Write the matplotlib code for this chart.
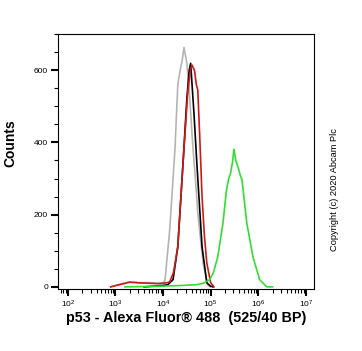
import numpy as np
import matplotlib
matplotlib.use('Agg')
import matplotlib.pyplot as plt
from matplotlib.ticker import LogLocator, MultipleLocator

plt.rcParams['font.family'] = ['Liberation Sans', 'DejaVu Sans']
plt.rcParams['mathtext.fontset'] = 'custom'
plt.rcParams['mathtext.rm'] = 'Liberation Sans'
plt.rcParams['mathtext.it'] = 'Liberation Sans'

# log10 of fluorescence intensity, counts per channel
gray_log = [2.9, 3.1, 3.3, 3.5, 3.7, 3.9, 4.0, 4.04, 4.14, 4.25, 4.31, 4.36, 4.40, 4.44, 4.50, 4.56, 4.62, 4.68, 4.73, 4.84, 4.94, 5.0]
gray_cnt = [0, 8, 14, 12, 12, 10, 12, 17, 158, 380, 560, 600, 625, 663, 620, 525, 400, 300, 205, 66, 5, 0]

black_log = [3.6, 3.8, 4.0, 4.1, 4.21, 4.31, 4.42, 4.50, 4.55, 4.58, 4.65, 4.71, 4.82, 4.92, 5.0, 5.05]
black_cnt = [0, 2, 4, 6, 20, 111, 343, 520, 600, 619, 480, 343, 111, 11, 2, 0]

red_log = [2.9, 3.05, 3.3, 3.5, 3.72, 3.9, 4.0, 4.1, 4.14, 4.22, 4.31, 4.42, 4.52, 4.58, 4.61, 4.66, 4.70, 4.73, 4.77, 4.82, 4.87, 4.92, 5.0, 5.07]
red_cnt = [0, 5, 13, 11, 10, 9, 10, 12, 14, 40, 111, 343, 540, 605, 614, 600, 560, 545, 420, 249, 140, 66, 12, 0]

green_log = [3.2, 3.6, 4.0, 4.4, 4.7, 4.85, 4.98, 5.06, 5.15, 5.26, 5.33, 5.38, 5.42, 5.46, 5.49, 5.53, 5.58, 5.62, 5.66, 5.76, 5.89, 6.03, 6.18, 6.3]
green_cnt = [0, 1, 2, 4, 6, 10, 20, 40, 83, 177, 265, 300, 315, 345, 381, 350, 330, 310, 296, 177, 83, 20, 0, 0]

fig = plt.figure(figsize=(3.62, 3.51), dpi=100)
ax = fig.add_axes([0.160, 0.177, 0.707, 0.726])

ax.plot(10 ** np.array(gray_log), gray_cnt, color='#b4b4b4', lw=1.2)
ax.plot(10 ** np.array(black_log), black_cnt, color='black', lw=1.2)
ax.plot(10 ** np.array(red_log), red_cnt, color='#cc1a1a', lw=1.2)
ax.plot(10 ** np.array(green_log), green_cnt, color='#33dd33', lw=1.2)

ax.set_xscale('log')
ax.set_xlim(10 ** 1.79, 10 ** 7.17)
ax.set_ylim(-5.5, 700)
ax.xaxis.set_major_locator(LogLocator(base=10, numticks=10))
ax.xaxis.set_minor_locator(LogLocator(base=10, subs=np.arange(2, 10), numticks=10))
ax.yaxis.set_major_locator(MultipleLocator(200))
ax.yaxis.set_minor_locator(MultipleLocator(50))
ax.tick_params(which='major', direction='out', length=5, width=1.5, labelsize=6, pad=2)
ax.tick_params(which='minor', direction='out', length=3, width=0.8)
for s in ax.spines.values():
    s.set_linewidth(0.8)

ax.set_ylabel('Counts', fontsize=10, fontweight='bold')
ax.yaxis.set_label_coords(-0.16, 0.57)
ax.set_xlabel('p53 - Alexa Fluor® 488  (525/40 BP)', fontsize=10.4, fontweight='bold', labelpad=1)

fig.text(0.925, 0.459, 'Copyright (c) 2020 Abcam Plc', rotation=90,
         fontsize=6.7, ha='center', va='center')

fig.savefig('out.png', dpi=100)
